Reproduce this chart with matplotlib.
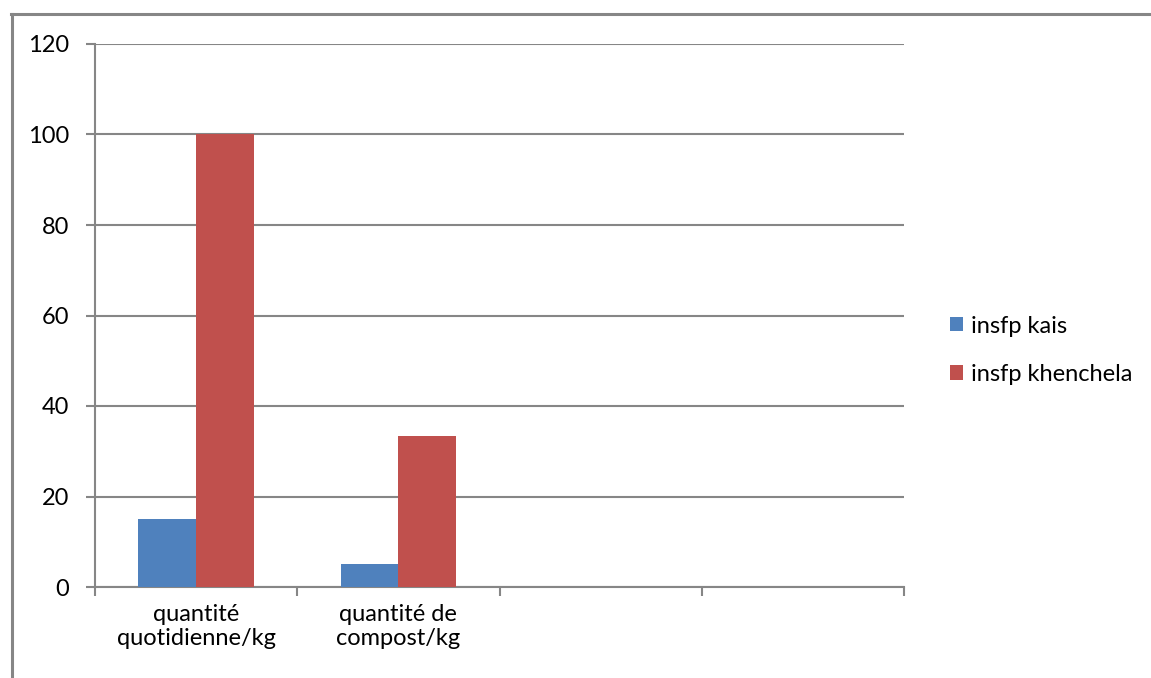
import matplotlib
matplotlib.use("Agg")
import matplotlib.pyplot as plt
from matplotlib.lines import Line2D
import numpy as np

plt.rcParams['font.family'] = ['Lato', 'DejaVu Sans']

categories = ["quantité\nquotidienne/kg", "quantité de\ncompost/kg", "", ""]
kais = [15, 5, 0, 0]
khenchela = [100, 33.3, 0, 0]
series_names = ["insfp kais", "insfp khenchela"]

BLUE = "#4F81BD"
RED = "#C0504D"
GRID = "#868686"
FS = 17

W, H = 1151, 678
fig = plt.figure(figsize=(W / 100, H / 100), dpi=100)

# chart border (only top and left edges fall inside the image)
fig.add_artist(Line2D([12 / W, 12 / W], [0, 1 - 14 / H], transform=fig.transFigure,
                      color=GRID, lw=2.2))
fig.add_artist(Line2D([11 / W, 1], [1 - 14 / H, 1 - 14 / H], transform=fig.transFigure,
                      color=GRID, lw=2.2))

ax = fig.add_axes([95 / W, (H - 587) / H, (904 - 95) / W, (587 - 44) / H])

x = np.arange(len(categories))
bw = 1 / 3.5
ax.bar(x - bw / 2, kais, bw, color=BLUE, label=series_names[0], zorder=3)
ax.bar(x + bw / 2, khenchela, bw, color=RED, label=series_names[1], zorder=3)

ax.set_xlim(-0.5, len(categories) - 0.5)
ax.set_ylim(0, 120)
ax.set_yticks(range(0, 121, 20))
ax.yaxis.grid(True, color=GRID, lw=1.5, zorder=0)
ax.tick_params(axis='y', length=6.5, width=1.5, color=GRID, labelsize=FS, pad=12)
for lbl in ax.get_yticklabels():
    lbl.set_color("black")

# category ticks sit on the boundaries, labels at the centers
ax.set_xticks(np.arange(-0.5, len(categories), 1.0))
ax.set_xticklabels([])
ax.set_xticks(x, minor=True)
ax.set_xticklabels(categories, minor=True, fontsize=FS, linespacing=1.2)
ax.tick_params(axis='x', which='major', length=6.5, width=1.5, color=GRID, direction='out')
ax.tick_params(axis='x', which='minor', length=0, pad=12)

for side in ["top", "right"]:
    ax.spines[side].set_visible(False)
for side in ["left", "bottom"]:
    ax.spines[side].set_color(GRID)
    ax.spines[side].set_linewidth(1.5)

ax.legend(loc="center left", bbox_to_anchor=(1.03, 0.436), frameon=False, fontsize=FS,
          handlelength=0.55, handleheight=0.55, handletextpad=0.35, labelspacing=1.15)

fig.savefig("out.png", dpi=100)
